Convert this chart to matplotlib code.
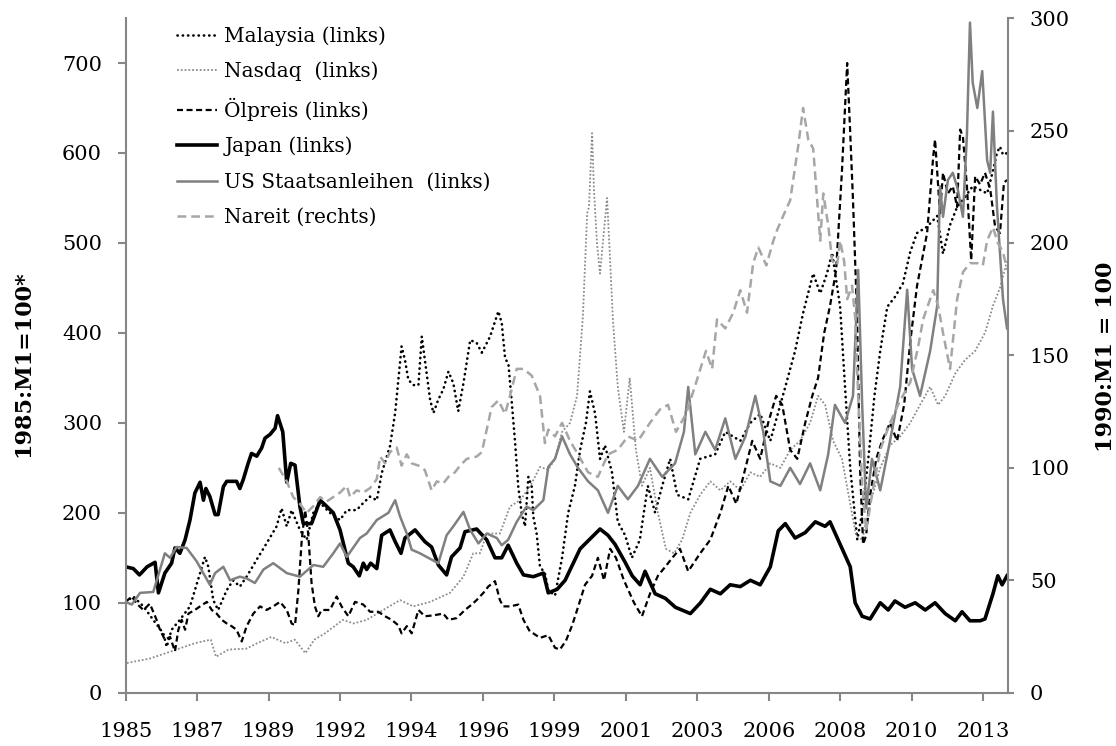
import matplotlib
matplotlib.use('Agg')
import matplotlib.pyplot as plt

plt.rcParams['font.family'] = ['DejaVu Serif']

# --- data (decimal years, index values) ---
malaysia_t = [1985.00, 1985.25, 1985.58, 1985.90, 1986.23, 1986.34, 1986.50, 1986.77, 1987.10, 1987.43,
              1987.59, 1987.70, 1987.86, 1988.02, 1988.30, 1988.51, 1988.73, 1988.95, 1989.28, 1989.60,
              1989.93, 1990.09, 1990.26, 1990.42, 1990.69, 1990.91, 1991.13, 1991.35, 1991.67, 1992.00,
              1992.22, 1992.54, 1992.76, 1992.98, 1993.20, 1993.36, 1993.63, 1993.80, 1994.01, 1994.12,
              1994.23, 1994.39, 1994.56, 1994.67, 1994.77, 1994.94, 1995.05, 1995.21, 1995.37, 1995.54,
              1995.70, 1995.86, 1996.03, 1996.25, 1996.46, 1996.63, 1996.90, 1997.17, 1997.28, 1997.39,
              1997.50, 1997.60, 1997.71, 1997.82, 1997.93, 1998.04, 1998.15, 1998.26, 1998.31, 1998.42,
              1998.53, 1998.69, 1998.80, 1999.02, 1999.25, 1999.45, 1999.67, 1999.84, 2000.03, 2000.16,
              2000.33, 2000.49, 2000.65, 2000.88, 2001.07, 2001.31, 2001.53, 2001.79, 2002.05, 2002.29,
              2002.52, 2002.78, 2003.01, 2003.37, 2003.76, 2004.25, 2004.58, 2005.07, 2005.40, 2005.72,
              2006.05, 2006.54, 2006.86, 2007.12, 2007.45, 2007.68, 2007.90, 2008.07, 2008.23, 2008.33,
              2008.49, 2008.66, 2008.89, 2009.05, 2009.25, 2009.45, 2009.64, 2009.87, 2010.12, 2010.38,
              2010.62, 2010.84, 2011.17, 2011.50, 2011.69, 2011.92, 2012.15, 2012.34, 2012.66, 2012.90,
              2013.13, 2013.32, 2013.45, 2013.55, 2013.65, 2013.78]
malaysia_v = [101, 107, 96, 81, 66, 51, 70, 81, 96, 133,
              151, 140, 103, 92, 114, 125, 118, 129, 148, 166,
              185, 205, 185, 203, 181, 170, 200, 211, 200, 192,
              203, 203, 211, 218, 214, 244, 274, 311, 385, 370,
              348, 342, 342, 396, 370, 326, 311, 326, 337, 357,
              344, 313, 344, 392, 389, 378, 396, 424, 411, 372,
              365, 326, 281, 229, 200, 185, 240, 229, 196, 177,
              140, 133, 114, 108, 150, 200, 230, 270, 300, 335,
              310, 260, 275, 245, 190, 175, 150, 170, 230, 200,
              230, 260, 220, 215, 260, 265, 290, 280, 300, 310,
              280, 340, 380, 422, 466, 444, 466, 489, 452, 429,
              340, 250, 170, 200, 260, 330, 380, 429, 440, 455,
              490, 511, 518, 530, 488, 520, 540, 548, 563, 559,
              555, 580, 600, 607, 598, 600]

nasdaq_t = [1985.04, 1985.79, 1986.49, 1987.25, 1987.78, 1987.95, 1988.36, 1988.94, 1989.29, 1989.76,
            1990.22, 1990.52, 1990.87, 1991.16, 1991.51, 1992.09, 1992.44, 1992.87, 1993.41, 1993.96,
            1994.39, 1994.94, 1995.59, 1996.03, 1996.35, 1996.57, 1996.79, 1997.22, 1997.55, 1997.88,
            1998.20, 1998.53, 1998.80, 1999.02, 1999.25, 1999.51, 1999.74, 1999.93, 2000.07, 2000.13,
            2000.23, 2000.29, 2000.39, 2000.49, 2000.59, 2000.72, 2000.82, 2000.91, 2001.07, 2001.27,
            2001.46, 2001.66, 2001.86, 2002.12, 2002.38, 2002.64, 2002.91, 2003.17, 2003.44, 2003.76,
            2004.09, 2004.42, 2004.74, 2005.07, 2005.40, 2005.72, 2006.05, 2006.38, 2006.70, 2007.02,
            2007.35, 2007.61, 2007.84, 2008.10, 2008.39, 2008.66, 2008.85, 2009.05, 2009.31, 2009.64,
            2009.96, 2010.29, 2010.62, 2010.94, 2011.27, 2011.53, 2011.76, 2012.09, 2012.41, 2012.74,
            2013.06, 2013.32, 2013.55, 2013.78]
nasdaq_v = [33, 38, 46, 55, 59, 40, 48, 49, 55, 62,
            55, 59, 44, 59, 66, 81, 77, 81, 92, 103,
            96, 101, 111, 129, 155, 155, 177, 177, 207, 214,
            229, 251, 248, 260, 290, 300, 330, 418, 533, 540,
            622, 560, 500, 466, 503, 550, 480, 415, 340, 290,
            350, 270, 230, 250, 200, 160, 155, 170, 200, 220,
            235, 225, 235, 225, 245, 240, 255, 250, 270, 280,
            300, 330, 320, 280, 260, 210, 175, 170, 210, 250,
            275, 285, 300, 320, 340, 320, 330, 355, 370, 380,
            400, 430, 450, 480]

oil_t = [1985.00, 1985.20, 1985.36, 1985.58, 1985.79, 1986.01, 1986.12, 1986.28, 1986.45, 1986.61,
         1986.72, 1986.83, 1986.94, 1987.05, 1987.26, 1987.43, 1987.65, 1987.81, 1987.97, 1988.14,
         1988.30, 1988.46, 1988.62, 1988.79, 1988.95, 1989.17, 1989.39, 1989.60, 1989.82, 1990.04,
         1990.26, 1990.42, 1990.53, 1990.64, 1990.75, 1990.86, 1990.96, 1991.07, 1991.18, 1991.29,
         1991.40, 1991.67, 1991.89, 1992.05, 1992.27, 1992.49, 1992.76, 1992.98, 1993.25, 1993.47,
         1993.69, 1993.90, 1994.01, 1994.18, 1994.34, 1994.56, 1994.77, 1995.05, 1995.37, 1995.54,
         1995.81, 1996.08, 1996.30, 1996.46, 1996.68, 1996.84, 1997.06, 1997.22, 1997.33, 1997.55,
         1997.82, 1997.99, 1998.20, 1998.31, 1998.53, 1998.80, 1999.02, 1999.18, 1999.38, 1999.58,
         1999.77, 2000.00, 2000.23, 2000.42, 2000.62, 2000.82, 2001.01, 2001.27, 2001.60, 2001.86,
         2002.12, 2002.38, 2002.62, 2002.85, 2003.10, 2003.37, 2003.76, 2004.09, 2004.42, 2004.68,
         2004.94, 2005.24, 2005.46, 2005.72, 2005.98, 2006.24, 2006.44, 2006.70, 2006.93, 2007.19,
         2007.42, 2007.61, 2007.81, 2008.00, 2008.20, 2008.39, 2008.56, 2008.66, 2008.75, 2008.88,
         2008.98, 2009.08, 2009.18, 2009.31, 2009.51, 2009.70, 2009.96, 2010.19, 2010.42, 2010.62,
         2010.84, 2011.17, 2011.37, 2011.43, 2011.53, 2011.59, 2011.69, 2011.85, 2012.01, 2012.15,
         2012.25, 2012.34, 2012.47, 2012.61, 2012.74, 2012.90, 2013.06, 2013.23, 2013.39, 2013.55,
         2013.68, 2013.78]
oil_v = [101, 107, 99, 92, 99, 81, 70, 59, 62, 46,
         70, 81, 70, 88, 92, 96, 101, 92, 88, 81,
         77, 74, 70, 57, 74, 88, 96, 92, 96, 101,
         92, 77, 75, 114, 170, 203, 177, 122, 96, 85,
         92, 92, 107, 96, 85, 101, 98, 90, 90, 85,
         81, 75, 66, 74, 66, 92, 85, 86, 88, 81,
         83, 92, 98, 103, 111, 118, 124, 103, 96, 96,
         98, 81, 68, 66, 61, 64, 50, 48, 58, 75,
         95, 120, 130, 150, 125, 160, 150, 125, 100, 85,
         110, 130, 140, 150, 160, 135, 155, 170, 200, 230,
         210, 250, 280, 260, 300, 330, 320, 270, 260, 300,
         330, 350, 400, 430, 470, 580, 700, 622, 548, 422,
         250, 165, 175, 220, 260, 280, 300, 280, 320, 390,
         452, 511, 596, 615, 563, 533, 578, 555, 563, 540,
         626, 618, 563, 481, 574, 565, 578, 560, 518, 511,
         567, 570]

japan_t = [1985.00, 1985.25, 1985.45, 1985.70, 1985.96, 1986.07, 1986.28, 1986.50, 1986.61, 1986.77,
           1986.94, 1987.10, 1987.26, 1987.43, 1987.54, 1987.62, 1987.75, 1987.92, 1988.02, 1988.19,
           1988.30, 1988.62, 1988.73, 1988.84, 1989.00, 1989.11, 1989.28, 1989.44, 1989.55, 1989.71,
           1989.88, 1989.96, 1990.13, 1990.26, 1990.39, 1990.53, 1990.69, 1990.80, 1991.07, 1991.35,
           1991.51, 1991.78, 1992.00, 1992.27, 1992.43, 1992.63, 1992.76, 1992.87, 1993.00, 1993.20,
           1993.36, 1993.63, 1993.80, 1993.99, 1994.12, 1994.45, 1994.77, 1994.99, 1995.21, 1995.48,
           1995.64, 1995.92, 1996.08, 1996.46, 1996.79, 1997.06, 1997.28, 1997.49, 1997.77, 1997.99,
           1998.31, 1998.64, 1998.80, 1999.09, 1999.35, 1999.84, 2000.49, 2000.75, 2000.98, 2001.31,
           2001.54, 2001.80, 2001.96, 2002.29, 2002.62, 2002.95, 2003.44, 2003.77, 2004.09, 2004.42,
           2004.74, 2005.07, 2005.40, 2005.72, 2006.05, 2006.31, 2006.54, 2006.86, 2007.19, 2007.52,
           2007.84, 2008.00, 2008.33, 2008.66, 2008.82, 2009.05, 2009.31, 2009.64, 2009.90, 2010.12,
           2010.45, 2010.78, 2011.11, 2011.43, 2011.76, 2012.09, 2012.31, 2012.57, 2012.90, 2013.06,
           2013.32, 2013.48, 2013.62, 2013.78]
japan_v = [140, 138, 131, 140, 145, 111, 133, 144, 161, 155,
           170, 192, 222, 234, 214, 227, 218, 198, 198, 229,
           235, 235, 227, 237, 255, 266, 263, 272, 283, 287,
           294, 308, 290, 234, 255, 253, 207, 188, 188, 214,
           209, 200, 181, 144, 140, 130, 144, 137, 144, 138,
           175, 181, 168, 155, 172, 181, 168, 162, 142, 131,
           151, 161, 179, 182, 170, 150, 150, 164, 144, 131,
           129, 133, 111, 115, 125, 160, 182, 175, 165, 145,
           130, 120, 135, 110, 105, 95, 88, 100, 115, 110,
           120, 118, 125, 120, 140, 180, 188, 172, 178, 190,
           185, 190, 165, 140, 100, 85, 82, 100, 92, 102,
           95, 100, 92, 100, 88, 80, 90, 80, 80, 82,
           110, 130, 120, 130]

us_t = [1985.00, 1985.20, 1985.47, 1985.90, 1986.28, 1986.45, 1986.66, 1986.99, 1987.32, 1987.75,
        1987.92, 1988.19, 1988.41, 1988.73, 1988.95, 1989.22, 1989.50, 1989.82, 1990.26, 1990.69,
        1991.13, 1991.45, 1991.78, 1992.00, 1992.22, 1992.65, 1992.87, 1993.20, 1993.58, 1993.80,
        1993.96, 1994.18, 1994.34, 1994.61, 1994.88, 1995.21, 1995.48, 1995.70, 1996.03, 1996.25,
        1996.52, 1996.79, 1997.12, 1997.28, 1997.49, 1997.77, 1998.09, 1998.31, 1998.64, 1998.80,
        1999.02, 1999.25, 1999.51, 1999.77, 2000.10, 2000.42, 2000.75, 2001.07, 2001.40, 2001.73,
        2002.12, 2002.52, 2002.94, 2003.23, 2003.37, 2003.60, 2003.93, 2004.25, 2004.58, 2004.91,
        2005.24, 2005.56, 2005.82, 2006.05, 2006.38, 2006.70, 2007.02, 2007.35, 2007.68, 2007.94,
        2008.16, 2008.49, 2008.75, 2008.92, 2009.05, 2009.18, 2009.37, 2009.64, 2009.96, 2010.29,
        2010.52, 2010.68, 2010.94, 2011.27, 2011.50, 2011.59, 2011.69, 2011.85, 2012.01, 2012.17,
        2012.34, 2012.47, 2012.57, 2012.66, 2012.81, 2012.97, 2013.13, 2013.23, 2013.32, 2013.45,
        2013.65, 2013.78]
us_v = [101, 98, 111, 112, 155, 150, 162, 161, 146, 120,
        133, 140, 125, 129, 127, 122, 137, 144, 133, 129,
        142, 140, 155, 166, 151, 172, 177, 192, 200, 214,
        196, 177, 159, 155, 150, 144, 175, 185, 201, 181,
        166, 177, 172, 164, 170, 190, 207, 203, 214, 251,
        260, 285, 265, 250, 235, 225, 200, 230, 215, 230,
        260, 240, 255, 290, 340, 265, 290, 270, 305, 260,
        285, 330, 290, 235, 230, 250, 232, 255, 225, 265,
        320, 300, 330, 470, 320, 205, 260, 225, 280, 340,
        448, 360, 330, 380, 430, 563, 529, 570, 578, 560,
        529, 620, 745, 678, 650, 691, 592, 578, 646, 541,
        437, 405]

nareit_t = [1990.00, 1990.26, 1990.47, 1990.69, 1990.91, 1991.13, 1991.35, 1991.56, 1991.78, 1992.00,
            1992.22, 1992.33, 1992.54, 1992.76, 1992.98, 1993.20, 1993.31, 1993.47, 1993.63, 1993.85,
            1994.01, 1994.18, 1994.34, 1994.56, 1994.77, 1994.99, 1995.16, 1995.37, 1995.54, 1995.75,
            1995.92, 1996.14, 1996.46, 1996.63, 1996.79, 1996.95, 1997.17, 1997.39, 1997.55, 1997.77,
            1997.99, 1998.26, 1998.53, 1998.69, 1998.80, 1999.02, 1999.25, 1999.51, 1999.77, 2000.10,
            2000.42, 2000.75, 2001.07, 2001.40, 2001.73, 2002.12, 2002.45, 2002.71, 2002.97, 2003.30,
            2003.63, 2003.95, 2004.15, 2004.31, 2004.58, 2004.84, 2005.07, 2005.29, 2005.49, 2005.66,
            2005.92, 2006.15, 2006.28, 2006.47, 2006.70, 2006.96, 2007.12, 2007.29, 2007.45, 2007.58,
            2007.68, 2007.78, 2007.94, 2008.07, 2008.23, 2008.33, 2008.46, 2008.56, 2008.72, 2008.82,
            2008.92, 2009.05, 2009.18, 2009.37, 2009.64, 2009.96, 2010.29, 2010.62, 2010.88, 2011.04,
            2011.37, 2011.53, 2011.69, 2011.92, 2012.15, 2012.34, 2012.57, 2012.81, 2012.99, 2013.13,
            2013.32, 2013.48, 2013.65, 2013.78]
nareit_v = [100, 94, 87, 84, 80, 83, 87, 85, 87, 89,
            92, 87, 90, 89, 91, 95, 105, 102, 107, 109,
            101, 106, 102, 101, 99, 90, 94, 93, 96, 98,
            101, 104, 105, 107, 117, 127, 130, 124, 132, 144,
            144, 141, 132, 111, 117, 114, 120, 112, 106, 98,
            96, 106, 108, 114, 112, 120, 126, 128, 116, 124,
            138, 152, 144, 166, 162, 169, 179, 169, 191, 198,
            190, 201, 206, 212, 219, 243, 260, 246, 242, 219,
            201, 222, 208, 192, 190, 201, 192, 175, 181, 167,
            132, 92, 72, 88, 108, 120, 130, 138, 154, 166,
            179, 172, 160, 144, 175, 187, 191, 191, 190, 201,
            207, 200, 196, 188]

tick_years = [1985 + k * 28 / 12 for k in range(13)]
tick_labels = ['1985', '1987', '1989', '1992', '1994', '1996', '1999',
               '2001', '2003', '2006', '2008', '2010', '2013']

axis_grey = '#868686'

fig = plt.figure(figsize=(11.16, 7.46), dpi=100)
ax = fig.add_axes([0.1126, 0.0714, 0.7903, 0.9044])
ax2 = ax.twinx()

l1, = ax.plot(malaysia_t, malaysia_v, color='black', lw=1.9,
              linestyle=(0, (0.1, 1.9)), dash_capstyle='round', label='Malaysia (links)')
l2, = ax.plot(nasdaq_t, nasdaq_v, color='#8c8c8c', lw=1.3,
              linestyle=(0, (1, 1.1)), label='Nasdaq  (links)')
l3, = ax.plot(oil_t, oil_v, color='black', lw=1.6,
              linestyle=(0, (2.7, 1.6)), label='Ölpreis (links)')
l4, = ax.plot(japan_t, japan_v, color='black', lw=2.6, label='Japan (links)')
l5, = ax.plot(us_t, us_v, color='#808080', lw=1.8, label='US Staatsanleihen  (links)')
l6, = ax2.plot(nareit_t, nareit_v, color='#a6a6a6', lw=1.8,
               linestyle=(0, (3.5, 2)), label='Nareit (rechts)')

ax.set_xlim(1985, 2013.8)
ax.set_ylim(0, 750)
ax2.set_ylim(0, 300)
ax.set_yticks(range(0, 701, 100))
ax2.set_yticks(range(0, 301, 50))
ax.set_xticks(tick_years)
ax.set_xticklabels(tick_labels)

for a in (ax, ax2):
    a.spines['top'].set_visible(False)
    for s in ('left', 'right', 'bottom'):
        a.spines[s].set_color(axis_grey)
        a.spines[s].set_linewidth(1.5)
ax.spines['right'].set_visible(False)
ax2.spines['left'].set_visible(False)
ax2.spines['bottom'].set_visible(False)

ax.tick_params(axis='y', direction='out', length=6, width=1.5, color=axis_grey,
               labelsize=15, pad=11)
ax.tick_params(axis='x', direction='out', length=6, width=1.5, color=axis_grey,
               labelsize=15, pad=15)
ax2.tick_params(axis='y', direction='out', length=4, width=1.5, color=axis_grey,
                labelsize=15, pad=12)

fig.text(23 / 1116, 1 - 364 / 746, '1985:M1=100*', rotation=90, ha='center', va='center',
         fontsize=16, fontweight='bold')
fig.text(1106 / 1116, 1 - 357 / 746, '1990:M1 = 100', rotation=90, ha='center', va='center',
         fontsize=16, fontweight='bold')

fig.legend(handles=[l1, l2, l3, l4, l5, l6], loc='upper left',
           bbox_to_anchor=(177 / 1116, 1 - 26 / 746), frameon=False, fontsize=14.5,
           handlelength=2.0, handletextpad=0.35, labelspacing=0.8,
           borderpad=0, borderaxespad=0)

fig.savefig('out.png', dpi=100)
